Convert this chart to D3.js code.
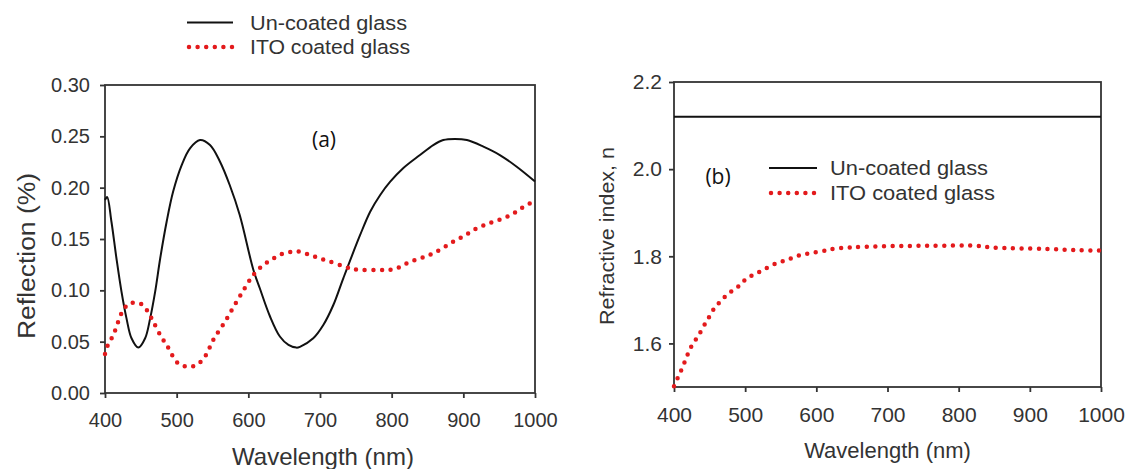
<!DOCTYPE html>
<html>
<head>
<meta charset="utf-8">
<script src="https://cdn.jsdelivr.net/npm/d3@7"></script>
<style>
  body { margin: 0; background: #fff; }
  text { font-family: "Liberation Sans", Arial, sans-serif; fill: #333; }
  .axis path, .axis line { stroke: #333; stroke-width: 1.8; }
  .frame { fill: none; stroke: #333; stroke-width: 1.8; }
  .solid { fill: none; stroke: #111; stroke-width: 2; }
  .dots { fill: none; stroke: #e31a1c; stroke-width: 4.5; stroke-linecap: round; stroke-dasharray: 0 8.6; }
</style>
</head>
<body>
<svg id="svg" width="1129" height="469"></svg>
<script>
// panel (a) reflection
const wlA = [400, 403, 409, 416, 423, 430, 437, 446.5, 456, 463, 470, 477, 486, 495, 507, 518.6, 532.5, 546.5, 560.5, 574, 588, 607, 616, 630, 644, 656, 667, 672, 690.6, 704.6, 718.6, 732.5, 756, 770, 784, 798, 816, 839.5, 858, 872, 888, 905, 928, 951, 974.5, 1000]
const reflUncoated = [0.188, 0.191, 0.1668, 0.131, 0.0987, 0.0727, 0.0533, 0.0442, 0.0533, 0.0727, 0.0987, 0.131, 0.1668, 0.196, 0.222, 0.2383, 0.2464, 0.2415, 0.2253, 0.2026, 0.1734, 0.120, 0.102, 0.075, 0.055, 0.0468, 0.0442, 0.045, 0.0533, 0.0662, 0.0857, 0.1117, 0.1539, 0.1766, 0.1929, 0.2058, 0.2189, 0.2318, 0.2415, 0.2464, 0.2475, 0.2464, 0.240, 0.2318, 0.2204, 0.206]

const wlAito = [400, 403, 411.6, 425.6, 435, 449, 458, 465, 477, 486, 502, 516, 528, 540, 551, 567.4, 581, 595, 607, 621, 635, 649, 663, 672, 686, 700, 714, 735, 746, 760, 784, 798, 809, 821, 832.5, 846.5, 858, 872, 884, 895, 907, 918.6, 930, 942, 956, 970, 981, 993, 1000]
const reflITO = [0.038, 0.045, 0.0565, 0.081, 0.0873, 0.0873, 0.081, 0.0727, 0.0565, 0.0468, 0.0289, 0.0256, 0.0273, 0.036, 0.0516, 0.0695, 0.0857, 0.102, 0.115, 0.1247, 0.131, 0.136, 0.1376, 0.1376, 0.1344, 0.131, 0.128, 0.123, 0.1208, 0.1198, 0.1198, 0.120, 0.122, 0.1263, 0.1295, 0.1328, 0.136, 0.1416, 0.1467, 0.1506, 0.1555, 0.1604, 0.1636, 0.1668, 0.170, 0.175, 0.180, 0.1848, 0.186]

// panel (b) refractive index
const wlB = [400, 1000]
const nUncoated = [2.12, 2.12]
const wlBito = [400, 405, 412, 418, 425, 434, 444, 451, 458, 467, 474, 483, 493, 502, 516, 528, 544, 558, 572, 587, 601, 615, 624, 647, 690, 755, 826, 849, 919, 971, 1000]
const nITO = [1.502, 1.52, 1.545, 1.57, 1.595, 1.617, 1.646, 1.665, 1.684, 1.699, 1.711, 1.722, 1.734, 1.749, 1.761, 1.771, 1.784, 1.791, 1.800, 1.806, 1.810, 1.814, 1.817, 1.820, 1.823, 1.824, 1.824, 1.820, 1.817, 1.814, 1.813]

const wlTicks = [400, 500, 600, 700, 800, 900, 1000]
const reflTicks = [0, 0.05, 0.10, 0.15, 0.20, 0.25, 0.30]
const nTicks = [1.6, 1.8, 2.0, 2.2]
const seriesNames = ['Un-coated glass', 'ITO coated glass']

const svg = d3.select('#svg')

function zip(xs, ys) {
	return xs.map((x, i) => ({x: x, y: ys[i]}))
}

function panel(opt) {
	const x = d3.scaleLinear().domain([400, 1000]).range(opt.xr)
	const y = d3.scaleLinear().domain(opt.yd).range(opt.yr)
	const g = svg.append('g')

	g.append('g')
		.attr('class', 'axis')
		.attr('transform', `translate(0,${opt.yr[0]})`)
		.call(d3.axisBottom(x).tickValues(wlTicks).tickFormat(d3.format('d')).tickSize(5).tickPadding(opt.xpad).tickSizeOuter(0))
		.call(a => a.select('.domain').remove())
		.selectAll('text').style('font-size', opt.tickFont + 'px')

	g.append('g')
		.attr('class', 'axis')
		.attr('transform', `translate(${opt.xr[0]},0)`)
		.call(d3.axisLeft(y).tickValues(opt.yticks).tickFormat(d3.format(opt.yfmt)).tickSize(5).tickPadding(opt.ypad).tickSizeOuter(0))
		.call(a => a.select('.domain').remove())
		.selectAll('text').style('font-size', opt.tickFont + 'px')

	g.append('rect')
		.attr('class', 'frame')
		.attr('x', opt.xr[0])
		.attr('y', opt.yr[1])
		.attr('width', opt.xr[1] - opt.xr[0])
		.attr('height', opt.yr[0] - opt.yr[1])

	const line = d3.line()
		.curve(d3.curveCatmullRom.alpha(0.5))
		.x(d => x(d.x))
		.y(d => y(d.y))

	g.append('path').attr('class', 'solid').attr('d', line(opt.solid))
	g.append('path').attr('class', 'dots').attr('d', line(opt.dotted))

	// axis titles
	g.append('text')
		.attr('x', (opt.xr[0] + opt.xr[1]) / 2 + opt.xtitleDx)
		.attr('y', opt.xtitleY)
		.attr('text-anchor', 'middle')
		.style('font-size', opt.titleFont + 'px')
		.text('Wavelength (nm)')

	g.append('text')
		.attr('transform', `translate(${opt.ytitleX},${opt.ytitleY}) rotate(-90)`)
		.attr('text-anchor', 'middle')
		.attr('textLength', opt.ytitleLen)
		.attr('lengthAdjust', 'spacingAndGlyphs')
		.style('font-size', opt.ytitleFont + 'px')
		.text(opt.ytitle)
	return g
}

panel({
	xr: [105, 535], yr: [393, 85], yd: [0, 0.30],
	yticks: reflTicks, yfmt: '.2f', tickFont: 20, xpad: 15, ypad: 10,
	solid: zip(wlA, reflUncoated), dotted: zip(wlAito, reflITO),
	titleFont: 24, xtitleDx: 3, xtitleY: 465,
	ytitle: 'Reflection (%)', ytitleX: 35, ytitleY: 256, ytitleFont: 23, ytitleLen: 166
})

panel({
	xr: [674, 1101], yr: [387, 82], yd: [1.5, 2.2],
	yticks: nTicks, yfmt: '.1f', tickFont: 21, xpad: 15, ypad: 7,
	solid: zip(wlB, nUncoated), dotted: zip(wlBito, nITO),
	titleFont: 22, xtitleDx: 0, xtitleY: 458,
	ytitle: 'Refractive index, n', ytitleX: 614, ytitleY: 236, ytitleFont: 20, ytitleLen: 178
})

function legend(x0, x1, tx, y0, gap, lens) {
	const g = svg.append('g')
	g.append('line').attr('class', 'solid')
		.attr('x1', x0).attr('x2', x1).attr('y1', y0).attr('y2', y0)
	g.append('line').attr('class', 'dots')
		.attr('x1', x0 + 2).attr('x2', x1).attr('y1', y0 + gap).attr('y2', y0 + gap)
	seriesNames.forEach((s, i) => {
		g.append('text')
			.attr('x', tx)
			.attr('y', y0 + i * gap + 7)
			.attr('textLength', lens[i])
			.attr('lengthAdjust', 'spacingAndGlyphs')
			.style('font-size', '20.5px')
			.text(s)
	})
}

legend(187, 233, 250, 22.5, 24.5, [157, 160])
legend(769, 817, 830, 168, 25, [158, 165])

// panel labels
svg.append('text')
	.attr('x', 324).attr('y', 147)
	.attr('text-anchor', 'middle')
	.style('font-family', '"Open Sans", sans-serif')
	.style('font-size', '21px')
	.style('fill', '#111')
	.text('(a)')
svg.append('text')
	.attr('x', 718).attr('y', 184)
	.attr('text-anchor', 'middle')
	.style('font-family', '"Open Sans", sans-serif')
	.style('font-size', '21px')
	.style('fill', '#111')
	.text('(b)')
</script>
</body>
</html>
